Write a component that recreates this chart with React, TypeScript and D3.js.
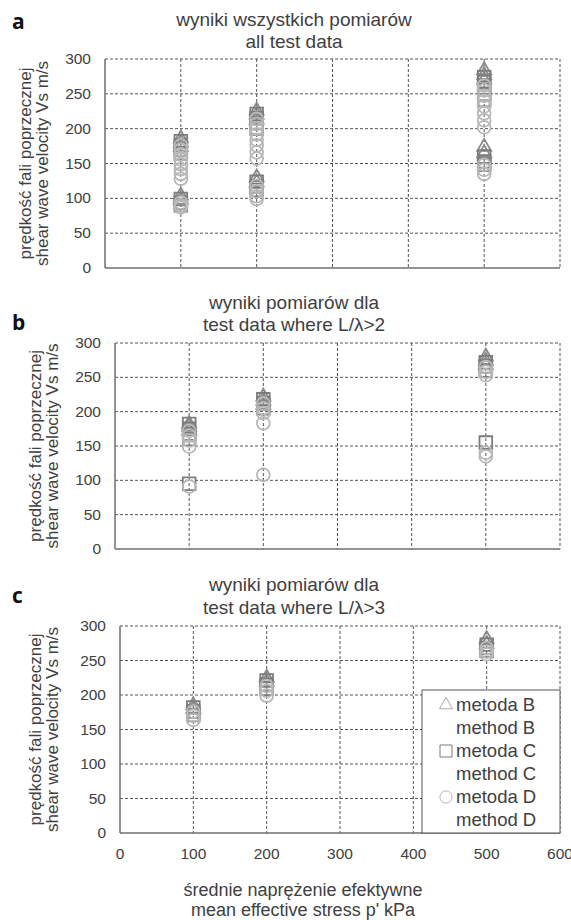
import React, { useEffect, useRef } from 'react';
import * as d3 from 'd3';

// stress levels (kPa) at which measurements were taken
const stressLevels = [100, 200, 500];
const xTicks = [0, 100, 200, 300, 400, 500, 600];
const yTicks = [0, 50, 100, 150, 200, 250, 300];

// panel a: all test data, one list of Vs values per stress level
const allMethodB = [
  [186, 180, 174, 104, 98],
  [226, 220, 213, 130, 123],
  [284, 277, 270, 174, 165],
];
const allMethodC = [
  [182, 176, 170, 164, 99, 94, 90],
  [221, 215, 208, 200, 124, 117, 112],
  [274, 267, 259, 250, 241, 160, 153, 148],
];
const allMethodD = [
  [176, 170, 163, 156, 149, 142, 135, 128, 94, 90, 87],
  [214, 207, 200, 192, 184, 176, 166, 157, 118, 110, 103, 99],
  [262, 255, 247, 240, 232, 222, 212, 202, 148, 141, 135],
];

// panel b: L/lambda > 2
const l2MethodB = [
  [182, 178, 172],
  [222, 216, 210],
  [280, 274, 268],
];
const l2MethodC = [
  [182, 175, 168, 160, 95],
  [218, 212, 205],
  [272, 266, 260, 155],
];
const l2MethodD = [
  [172, 165, 158, 149, 91],
  [212, 205, 198, 183, 108],
  [265, 258, 253, 140, 135],
];

// panel c: L/lambda > 3
const l3MethodB = [
  [185, 180],
  [225, 219],
  [281, 274],
];
const l3MethodC = [
  [182, 176, 171],
  [221, 215, 209],
  [273, 268, 264],
];
const l3MethodD = [
  [176, 170, 164],
  [213, 206, 199],
  [268, 263, 259],
];

const legendLabels = ['metoda B', 'method B', 'metoda C', 'method C', 'metoda D', 'method D'];

const FONT = 'Liberation Sans, Arial, sans-serif';
const TEXT = '#404040';

const styles = {
  B: { symbol: d3.symbolTriangle, size: 82, stroke: '#8a8a8a' },
  C: { symbol: d3.symbolSquare, size: 160, stroke: '#7c7c7c' },
  D: { symbol: d3.symbolCircle, size: 130, stroke: '#b8b8b8' },
};

const panels = [
  {
    letter: 'a', letterY: 29,
    title: ['wyniki  wszystkich pomiarów', 'all test data'], titleY: [26, 48],
    left: 105, right: 560, top: 59, bottom: 268,
    yTitleX: [31, 48],
    series: { B: allMethodB, C: allMethodC, D: allMethodD },
  },
  {
    letter: 'b', letterY: 330,
    title: ['wyniki pomiarów dla', 'test data where L/λ>2'], titleY: [309, 331],
    left: 115, right: 560, top: 343, bottom: 549,
    yTitleX: [41, 58],
    series: { B: l2MethodB, C: l2MethodC, D: l2MethodD },
  },
  {
    letter: 'c', letterY: 603,
    title: ['wyniki pomiarów dla', 'test data where L/λ>3'], titleY: [591, 614],
    left: 120, right: 560, top: 626, bottom: 833,
    yTitleX: [41, 58],
    series: { B: l3MethodB, C: l3MethodC, D: l3MethodD },
    xAxis: true, legend: true,
  },
];

export default function App() {
  const svgRef = useRef(null);

  useEffect(() => {
    const svg = d3.select(svgRef.current);
    svg.selectAll('*').remove();

    panels.forEach(p => {
      const g = svg.append('g');
      const x = d3.scaleLinear().domain([0, 600]).range([p.left, p.right]);
      const y = d3.scaleLinear().domain([0, 300]).range([p.bottom, p.top]);

      // panel letter
      g.append('text')
        .attr('x', 12).attr('y', p.letterY)
        .attr('font-family', 'Open Sans, sans-serif')
        .attr('font-weight', 'bold').attr('font-size', 21)
        .attr('fill', '#111')
        .text(p.letter);

      // title
      g.selectAll('.title')
        .data(p.title)
        .join('text')
        .attr('x', 294)
        .attr('y', (d, i) => p.titleY[i])
        .attr('text-anchor', 'middle')
        .attr('font-family', FONT).attr('font-size', 19)
        .attr('fill', TEXT)
        .text(d => d);

      // horizontal grid
      g.append('g')
        .selectAll('line')
        .data(yTicks.filter(t => t > 0))
        .join('line')
        .attr('x1', p.left).attr('x2', p.right)
        .attr('y1', d => y(d)).attr('y2', d => y(d))
        .attr('stroke', '#555').attr('stroke-width', 1)
        .attr('stroke-dasharray', '3,2');

      // vertical grid
      g.append('g')
        .selectAll('line')
        .data(xTicks.filter(t => t > 0))
        .join('line')
        .attr('x1', d => x(d)).attr('x2', d => x(d))
        .attr('y1', p.top).attr('y2', p.bottom)
        .attr('stroke', '#555').attr('stroke-width', 1)
        .attr('stroke-dasharray', '3,2');

      // axes lines
      g.append('line')
        .attr('x1', p.left).attr('x2', p.left)
        .attr('y1', p.top).attr('y2', p.bottom)
        .attr('stroke', '#6f6f6f').attr('stroke-width', 1.5);
      g.append('line')
        .attr('x1', p.left).attr('x2', p.right)
        .attr('y1', p.bottom).attr('y2', p.bottom)
        .attr('stroke', '#6f6f6f').attr('stroke-width', 1.5);

      // y tick labels
      g.selectAll('.ytick')
        .data(yTicks)
        .join('text')
        .attr('x', p.left - 14)
        .attr('y', d => y(d) + 5)
        .attr('text-anchor', 'end')
        .attr('font-family', FONT).attr('font-size', 15.5)
        .attr('fill', TEXT)
        .text(d => d);

      // y axis title (two lines)
      const yMid = (p.top + p.bottom) / 2;
      ['prędkość fali poprzecznej', 'shear wave velocity Vs m/s'].forEach((t, i) => {
        g.append('text')
          .attr('transform', `translate(${p.yTitleX[i]},${yMid}) rotate(-90)`)
          .attr('text-anchor', 'middle')
          .attr('font-family', FONT).attr('font-size', 17)
          .attr('fill', TEXT)
          .text(t);
      });

      // markers
      ['B', 'C', 'D'].forEach(key => {
        const st = styles[key];
        const pts = p.series[key].flatMap((vals, i) => vals.map(v => ({ s: stressLevels[i], v })));
        const sym = d3.symbol().type(st.symbol).size(st.size);
        g.append('g')
          .selectAll('path')
          .data(pts)
          .join('path')
          .attr('transform', d => `translate(${x(d.s)},${y(d.v)})`)
          .attr('d', sym)
          .attr('fill', 'none')
          .attr('stroke', st.stroke)
          .attr('stroke-width', 1.8);
      });

      if (p.xAxis) {
        g.selectAll('.xtick')
          .data(xTicks)
          .join('text')
          .attr('x', d => x(d))
          .attr('y', p.bottom + 26)
          .attr('text-anchor', 'middle')
          .attr('font-family', FONT).attr('font-size', 15.5)
          .attr('fill', TEXT)
          .text(d => d);

        ['średnie naprężenie efektywne', "mean effective stress p' kPa"].forEach((t, i) => {
          g.append('text')
            .attr('x', 303)
            .attr('y', 896 + i * 20)
            .attr('text-anchor', 'middle')
            .attr('font-family', FONT).attr('font-size', 18)
            .attr('fill', TEXT)
            .text(t);
        });
      }

      if (p.legend) {
        const lx = 422, ly = 690, lw = p.right - 422, lh = p.bottom - 690;
        const lg = g.append('g');
        lg.append('rect')
          .attr('x', lx).attr('y', ly).attr('width', lw).attr('height', lh)
          .attr('fill', '#fff').attr('stroke', '#555').attr('stroke-width', 1);
        lg.selectAll('text')
          .data(legendLabels)
          .join('text')
          .attr('x', lx + 34)
          .attr('y', (d, i) => ly + 21 + i * 23)
          .attr('font-family', FONT).attr('font-size', 18.5)
          .attr('fill', TEXT)
          .text(d => d);
        ['B', 'C', 'D'].forEach((key, i) => {
          const st = styles[key];
          lg.append('path')
            .attr('transform', `translate(${lx + 24},${ly + 15 + i * 46})`)
            .attr('d', d3.symbol().type(st.symbol).size(st.size * 0.9)())
            .attr('fill', 'none')
            .attr('stroke', key === 'B' ? '#aaa' : st.stroke)
            .attr('stroke-width', 1);
        });
      }
    });
  }, []);

  return (
    <svg
      ref={svgRef}
      width={571}
      height={920}
      style={{ position: 'absolute', left: 0, top: 0, background: '#fff' }}
    />
  );
}
